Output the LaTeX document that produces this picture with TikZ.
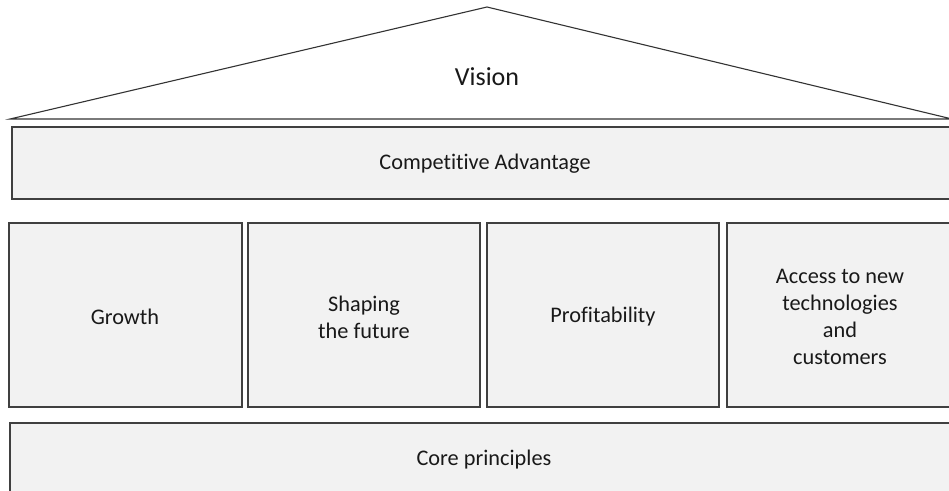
\documentclass[tikz,border=0pt]{standalone}
\usepackage{fontspec}
\setmainfont{Carlito}[Ligatures={NoCommon}]
\begin{document}
\begin{tikzpicture}[x=1pt,y=-1pt,
  box/.style={draw=black!75, fill=black!5, line width=1.1pt},
  lbl/.style={font=\fontsize{22.3}{27}\selectfont, align=center, text=black!90}]
\useasboundingbox (0,0) rectangle (949,490);
\begin{scope}
\clip (0,0) rectangle (949,490);
\draw[draw=black!80, line width=1.1pt, fill=white] (10,119) -- (487,7) -- (952,119) -- cycle;
\draw[box] (12,127) rectangle (960,199);
\draw[box] (9,223) rectangle (242,407);
\draw[box] (248,223) rectangle (480,407);
\draw[box] (487,223) rectangle (719,407);
\draw[box] (727,223) rectangle (960,407);
\draw[box] (10,423) rectangle (960,500);
\end{scope}
\node[lbl, font=\fontsize{26}{30}\selectfont] (vision) at (487,77) {Vision};
\node[lbl] (ca) at (485,164) {Competitive Advantage};
\node[lbl] (g) at (125,317) {Growth};
\node[lbl] (s) at (364,317) {Shaping\\the future};
\node[lbl] (p) at (603,317) {Profitability};
\node[lbl] (a) at (840,317) {Access to new\\technologies\\and\\customers};
\node[lbl] (c) at (484,460) {Core principles};
\end{tikzpicture}
\end{document}
